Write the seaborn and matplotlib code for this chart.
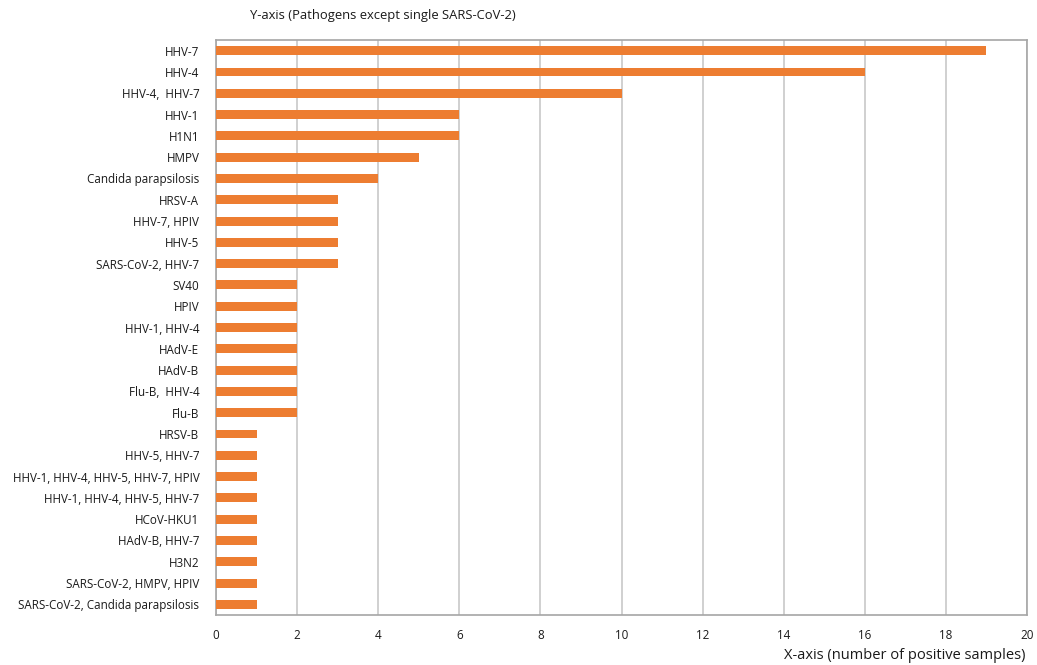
import matplotlib
matplotlib.use("Agg")
import matplotlib.pyplot as plt
import numpy as np
import pandas as pd
import seaborn as sns

#%% Data
pathogens = [
    'HHV-7', 'HHV-4', 'HHV-4,  HHV-7', 'HHV-1', 'H1N1', 'HMPV',
    'Candida parapsilosis', 'HRSV-A', 'HHV-7, HPIV', 'HHV-5',
    'SARS-CoV-2, HHV-7', 'SV40', 'HPIV', 'HHV-1, HHV-4', 'HAdV-E',
    'HAdV-B', 'Flu-B,  HHV-4', 'Flu-B', 'HRSV-B', 'HHV-5, HHV-7',
    'HHV-1, HHV-4, HHV-5, HHV-7, HPIV', 'HHV-1, HHV-4, HHV-5, HHV-7',
    'HCoV-HKU1', 'HAdV-B, HHV-7', 'H3N2', 'SARS-CoV-2, HMPV, HPIV',
    'SARS-CoV-2, Candida parapsilosis',
]
positives = [19, 16, 10, 6, 6, 5, 4, 3, 3, 3, 3, 2, 2, 2, 2, 2, 2, 2,
             1, 1, 1, 1, 1, 1, 1, 1, 1]
x_ticks = list(range(0, 21, 2))

data = pd.DataFrame({'pathogen': pathogens, 'count': positives})

#%% Figure
sns.set_style("white")
plt.rcParams['font.family'] = ['Open Sans', 'DejaVu Sans']
text_color = '#1a1a1a'

fig = plt.figure(figsize=(10.37, 6.65), dpi=100)
ax = fig.add_axes([0.2083, 0.0752, 0.7821, 0.8646])

sns.barplot(data=data, x='count', y='pathogen', orient='h',
            color='#ED7D31', saturation=1, width=0.42, linewidth=0,
            ax=ax, zorder=3)

ax.set_xlim(0, 20)
ax.set_ylim(len(pathogens) - 0.5, -0.5)
ax.set_xticks(x_ticks)
ax.set_xticklabels([str(t) for t in x_ticks], fontsize=8.4, color=text_color)
ax.tick_params(axis='y', labelsize=8.4, labelcolor=text_color, length=0, pad=12)
ax.tick_params(axis='x', length=0, pad=10)

ax.grid(axis='x', color='#c8c8c8', linewidth=1.2, zorder=0)
ax.grid(axis='y', visible=False)
for side in ['left', 'right', 'top', 'bottom']:
    ax.spines[side].set_visible(True)
    ax.spines[side].set_color('#a6a6a6')
    ax.spines[side].set_linewidth(1.2)

ax.set_xlabel('')
ax.set_ylabel('')

fig.text(0.241, 0.977, 'Y-axis (Pathogens except single SARS-CoV-2)',
         fontsize=9.4, color=text_color, ha='left', va='center')
fig.text(0.9885, 0.003, 'X-axis (number of positive samples)',
         fontsize=10.5, color=text_color, ha='right', va='bottom')

fig.savefig('out.png', dpi=100)
